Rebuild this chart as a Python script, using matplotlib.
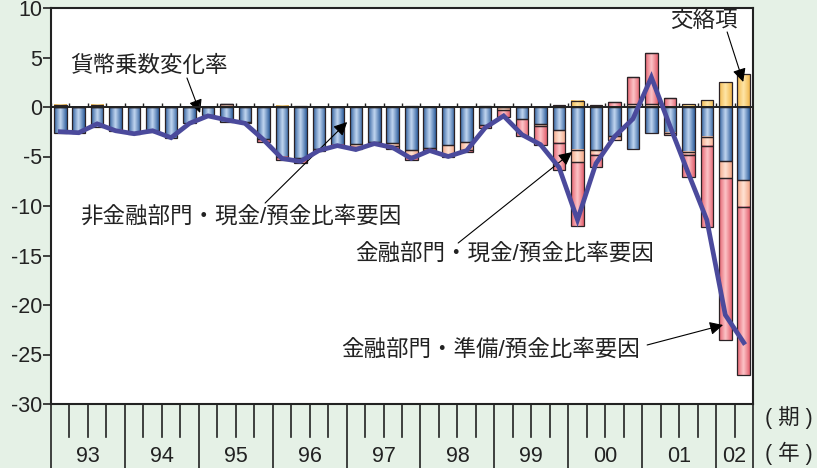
import numpy as np
import matplotlib
matplotlib.use("Agg")
import matplotlib.pyplot as plt
from matplotlib.colors import LinearSegmentedColormap

plt.rcParams['font.family'] = ['Liberation Sans', 'Noto Sans CJK JP']
plt.rcParams['axes.unicode_minus'] = False

# quarterly data, 93Q1 .. 02Q2
years = ['93', '94', '95', '96', '97', '98', '99', '00', '01', '02']
quarters_per_year = [4, 4, 4, 4, 4, 4, 4, 4, 4, 2]

# 非金融部門・現金/預金比率要因
nonfin_cash = [-2.6, -2.65, -2.0, -2.3, -2.75, -2.45, -3.15, -1.65, -0.85, -1.5,
               -1.55, -3.2, -5.0, -5.2, -4.25, -3.8, -3.7, -3.55, -3.6, -4.3,
               -4.1, -3.85, -3.5, -1.8, 0.0, -1.2, -1.7, -2.3, -4.35, -4.35,
               -2.9, -4.2, -2.65, -2.6, -4.5, -3.0, -5.5, -7.4]
# 金融部門・現金/預金比率要因
fin_cash = [0.0, 0.0, 0.0, 0.0, 0.0, 0.0, 0.0, 0.0, 0.0, 0.3,
            0.0, 0.0, 0.0, 0.0, 0.0, 0.0, -0.3, 0.0, -0.3, -0.6,
            -0.2, -1.0, -0.8, 0.0, -0.3, 0.0, -0.2, -1.3, -1.25, -0.5,
            -0.4, 0.3, 0.35, -0.25, -0.35, -0.95, -1.7, -2.7]
# 金融部門・準備/預金比率要因
fin_reserve = [0.0, 0.0, 0.0, -0.15, 0.0, -0.1, 0.0, 0.0, 0.0, 0.0,
               -0.1, -0.3, -0.4, -0.45, -0.2, -0.15, -0.25, -0.15, -0.3, -0.45,
               -0.15, -0.25, -0.2, -0.3, -0.7, -1.7, -1.9, -2.8, -6.4, -1.25,
               0.5, 2.7, 5.15, 0.9, -2.25, -8.2, -16.3, -17.0]
# 交絡項
cross = [0.25, 0.0, 0.25, 0.0, 0.0, 0.0, 0.0, 0.0, 0.0, 0.0,
         0.0, 0.0, 0.15, 0.1, 0.0, 0.0, 0.0, 0.0, 0.0, 0.1,
         0.0, 0.0, 0.0, 0.1, 0.0, 0.0, 0.0, 0.2, 0.65, 0.2,
         0.0, 0.0, 0.0, 0.0, 0.27, 0.67, 2.5, 3.3]
# 貨幣乗数変化率
multiplier = [-2.5, -2.6, -1.7, -2.4, -2.7, -2.4, -3.1, -1.65, -0.9, -1.3,
              -1.65, -3.3, -5.2, -5.5, -4.4, -3.9, -4.3, -3.7, -4.1, -5.2,
              -4.4, -5.0, -4.4, -2.1, -0.9, -2.8, -3.8, -6.1, -11.4, -5.7,
              -3.0, -1.2, 3.0, -1.9, -6.7, -11.4, -21.0, -23.8]

bg = '#e5f1e6'
fig = plt.figure(figsize=(8.17, 4.68), dpi=100, facecolor=bg)
ax = fig.add_axes([51 / 817, 64 / 468, 702 / 817, 396 / 468])
ax.set_facecolor('white')

n = len(multiplier)
x = np.arange(n)
width = 0.68

components = [
    (nonfin_cash, '#2f5f9e', '#c2d6f0'),
    (fin_cash, '#f4a789', '#ffe3d4'),
    (fin_reserve, '#e4606e', '#fcc4c8'),
    (cross, '#f2b84e', '#ffe6a8'),
]

grad = np.linspace(0, 1, 64).reshape(1, -1)
pos_base = np.zeros(n)
neg_base = np.zeros(n)
for vals, dark, light in components:
    vals = np.array(vals)
    bottoms = np.where(vals >= 0, pos_base, neg_base)
    bars = ax.bar(x, vals, width, bottom=bottoms, facecolor='none',
                  edgecolor='#2b2226', linewidth=0.9, zorder=3)
    cmap = LinearSegmentedColormap.from_list('shade', [dark, light, dark])
    for b in bars:
        h = b.get_height()
        if h == 0:
            continue
        x0, y0, w = b.get_x(), b.get_y(), b.get_width()
        ax.imshow(grad, cmap=cmap, extent=(x0, x0 + w, y0, y0 + h),
                  aspect='auto', interpolation='bilinear', zorder=2)
    pos_base = pos_base + np.where(vals > 0, vals, 0)
    neg_base = neg_base + np.where(vals < 0, vals, 0)

ax.plot(x, multiplier, color='#4b4a9c', linewidth=3.4, zorder=4,
        solid_joinstyle='miter')

# zero line with small quarter ticks
ax.axhline(0, color='#222222', linewidth=1.4, zorder=3.5)
ax.vlines(np.arange(n + 1) - 0.5, 0, 0.45, color='#222222', linewidth=1.0,
          zorder=3.5)

ax.set_xlim(-0.5, n - 0.5)
ax.set_ylim(-30, 10)
ax.set_yticks(np.arange(-30, 11, 5))
ax.set_yticklabels([str(v) for v in range(-30, 11, 5)])
ax.tick_params(axis='y', direction='out', length=6, width=1.2, pad=0.5,
               labelsize=15.5, colors='#222222')
ax.set_xticks([])

for side in ['left', 'right', 'top', 'bottom']:
    ax.spines[side].set_color('#222222')
    ax.spines[side].set_linewidth(1.5)

# category area below the plot
tr = ax.get_xaxis_transform()
boundaries = np.arange(n + 1) - 0.5
year_edges = np.concatenate([[0], np.cumsum(quarters_per_year)]) - 0.5
for b in boundaries:
    if np.any(np.isclose(b, year_edges)):
        ax.plot([b, b], [0, -64 / 396], transform=tr, color='#222222',
                linewidth=1.2, clip_on=False)
    else:
        ax.plot([b, b], [0, -33 / 396], transform=tr, color='#222222',
                linewidth=1.2, clip_on=False)
for i, yr in enumerate(years):
    mid = (year_edges[i] + year_edges[i + 1]) / 2
    ax.text(mid, -52 / 396, yr, transform=tr, ha='center', va='center',
            fontsize=15.5, color='#222222')

fig.text(789 / 817, 1 - 418 / 468, '( 期 )', ha='center', va='center',
         fontsize=15.5, color='#222222')
fig.text(789 / 817, 1 - 453 / 468, '( 年 )', ha='center', va='center',
         fontsize=15.5, color='#222222')

# annotations
tc = '#222222'
fs = 16.2
arrow = dict(arrowstyle='-|>', color='black', lw=0.8, mutation_scale=20,
             shrinkA=0, shrinkB=0)
ax.text(0.53, 4.14, '貨幣乗数変化率', ha='left', va='center', fontsize=fs, color=tc)
ax.annotate('', xy=(7.57, -0.6), xytext=(6.86, 2.93), arrowprops=arrow)

ax.text(1.07, -11.1, '非金融部門・現金/預金比率要因', ha='left', va='center',
        fontsize=fs, color=tc)
ax.annotate('', xy=(15.53, -1.52), xytext=(11.09, -9.7), arrowprops=arrow)

ax.text(15.96, -14.85, '金融部門・現金/預金比率要因', ha='left', va='center',
        fontsize=fs, color=tc)
ax.annotate('', xy=(27.71, -4.55), xytext=(21.54, -13.74), arrowprops=arrow)

ax.text(31.39, -24.55, '金融部門・準備/預金比率要因', ha='right', va='center',
        fontsize=fs, color=tc)
ax.annotate('', xy=(35.88, -22.02), xytext=(31.77, -24.04), arrowprops=arrow)

ax.text(34.83, 8.59, '交絡項', ha='center', va='center', fontsize=fs, color=tc)
ax.annotate('', xy=(36.97, 2.53), xytext=(36.1, 7.58), arrowprops=arrow)

fig.savefig('out.png', dpi=100, facecolor=bg)
